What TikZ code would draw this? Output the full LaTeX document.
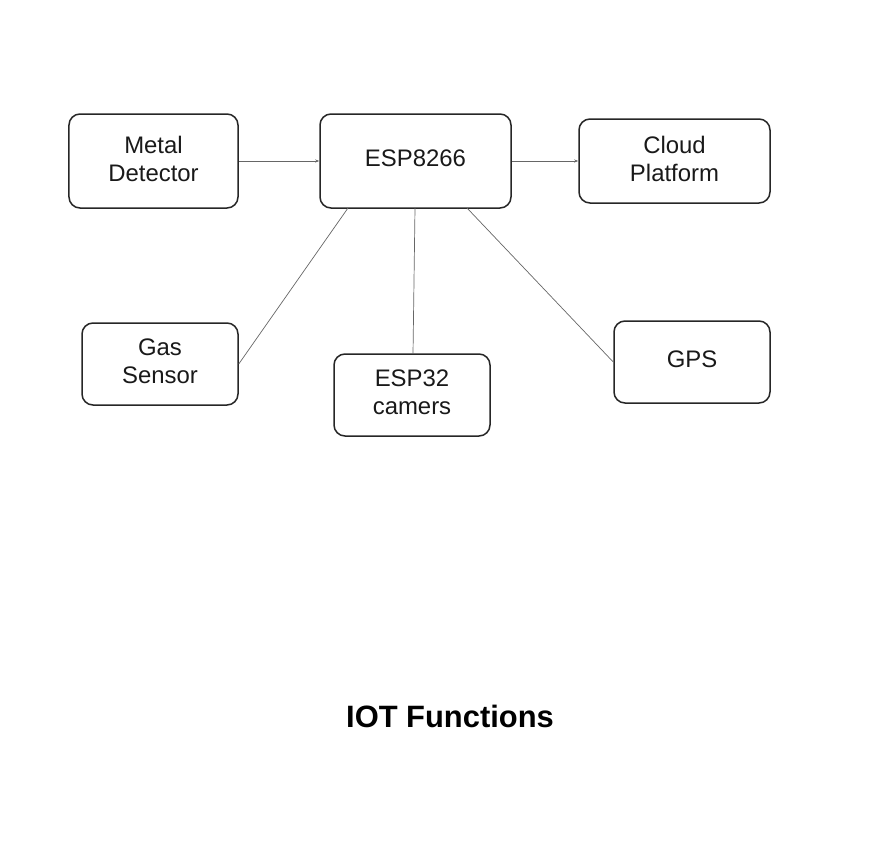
\documentclass[tikz,border=0pt]{standalone}
\usepackage{fontspec}
\setmainfont{Liberation Sans}
\usetikzlibrary{arrows.meta}
\begin{document}
\begin{tikzpicture}[x=1bp,y=-1bp,
  box/.style={draw=black!85,line width=1.5bp,rounded corners=11bp,align=center,
    font=\fontsize{24}{28}\selectfont,text=black!90,inner sep=0pt,text depth=5bp},
  link/.style={draw=black!60,line width=0.7bp},
  arr/.style={link,-{Stealth[length=4bp,width=3bp]}}]
\useasboundingbox (0,0) rectangle (876,862);
\node[box,minimum width=169bp,minimum height=94bp] (metal) at (153.5,161) {Metal\\Detector};
\node[box,minimum width=191bp,minimum height=94bp] (esp) at (415.5,161) {ESP8266};
\node[box,minimum width=191bp,minimum height=84bp] (cloud) at (674.5,161) {Cloud\\Platform};
\node[box,minimum width=156bp,minimum height=82bp] (gas) at (160,364) {Gas\\Sensor};
\node[box,minimum width=156bp,minimum height=82bp] (cam) at (412,395) {ESP32\\camers};
\node[box,minimum width=156bp,minimum height=82bp] (gps) at (692,362) {GPS};
\draw[arr] (metal.east) -- (esp.west);
\draw[arr] (esp.east) -- (cloud.west);
\coordinate (e1) at (348,208);
\coordinate (e2) at (415,208);
\coordinate (e3) at (467,208);
\coordinate (c2) at (413,354);
\draw[link] (e1) -- (gas.east);
\draw[link] (e2) -- (c2);
\draw[link] (e3) -- (gps.west);
\node[font=\bfseries\fontsize{31}{36}\selectfont] (title) at (450,716) {IOT Functions};
\end{tikzpicture}
\end{document}
